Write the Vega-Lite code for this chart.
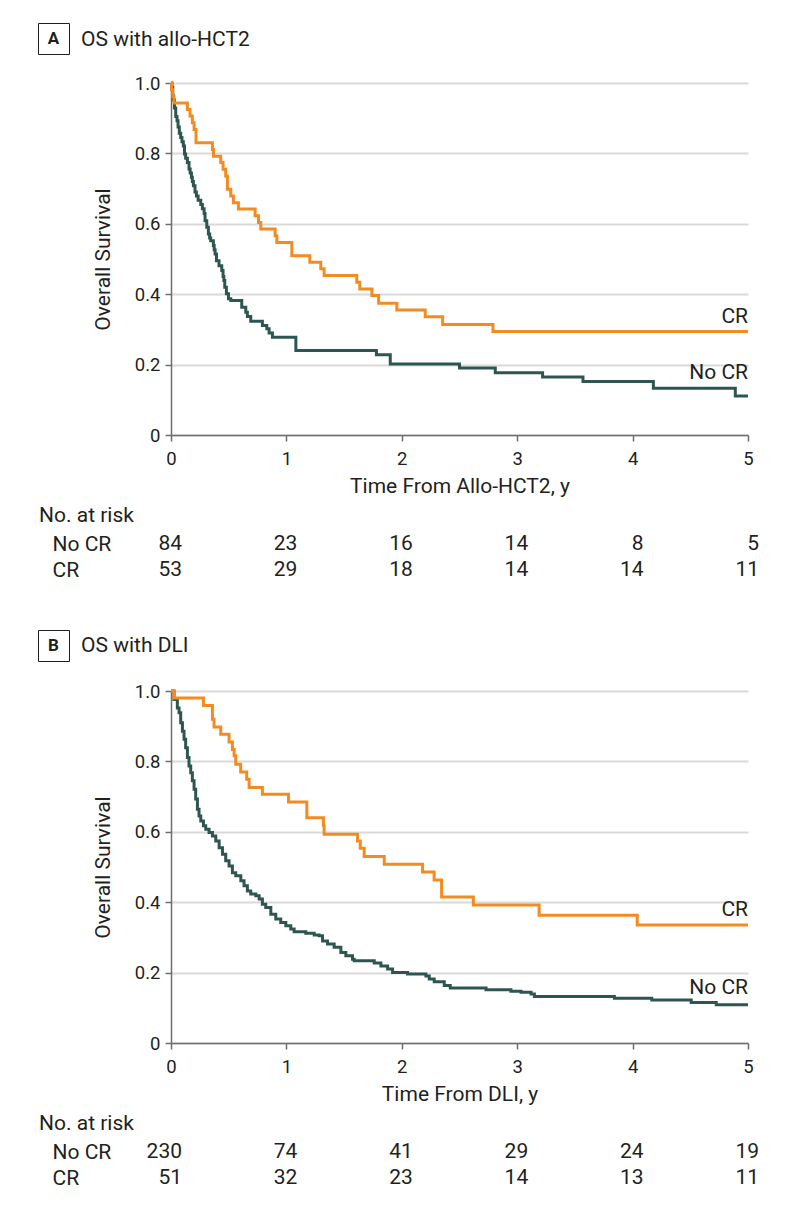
{
  "$schema": "https://vega.github.io/schema/vega-lite/v6.json",
  "background": "white",
  "padding": {"left": 37, "top": 22, "right": 5, "bottom": 5},
  "autosize": {"type": "pad"},
  "config": {
    "font": "Roboto",
    "view": {"stroke": null},
    "axis": {"labelColor": "#231f20", "titleColor": "#231f20", "domainColor": "#6d6e71", "tickColor": "#6d6e71", "domainWidth": 1.5, "tickWidth": 1.5, "tickSize": 6, "labelFontSize": 18.5, "titleFontSize": 21, "titleFontWeight": "normal", "labelFlush": false},
    "axisX": {"grid": false, "labelPadding": 8, "titlePadding": 8},
    "axisY": {"grid": true, "gridColor": "#d9d9d9", "gridWidth": 2, "labelPadding": 5, "titlePadding": 21},
    "title": {"fontSize": 21, "fontWeight": "normal", "color": "#231f20", "anchor": "start", "frame": "group"},
    "legend": {"orient": "none", "title": null, "strokeColor": "#231f20", "fillColor": "white", "padding": 7, "labelFontSize": 17, "labelFontWeight": "bold", "labelColor": "#231f20", "labelAlign": "center", "labelOffset": -8.5, "symbolType": "square", "symbolSize": 289, "symbolOpacity": 0, "symbolStrokeWidth": 0}
  },
  "resolve": {"scale": {"shape": "independent"}, "legend": {"shape": "independent"}},
  "spacing": 46,
  "vconcat": [
    {
      "spacing": 8,
      "resolve": {"scale": {"shape": "independent"}, "legend": {"shape": "independent"}},
      "vconcat": [
        {
          "width": 577, "height": 352,
          "title": {"text": "OS with allo-HCT2", "dx": -90, "dy": 78, "offset": 30, "baseline": "bottom"},
          "layer": [
            {
              "data": {"values": [
                {"g":"No CR","t":0,"s":1},{"g":"No CR","t":0.008,"s":0.988},{"g":"No CR","t":0.015,"s":0.964},{"g":"No CR","t":0.021,"s":0.952},{"g":"No CR","t":0.03,"s":0.929},{"g":"No CR","t":0.041,"s":0.905},{"g":"No CR","t":0.052,"s":0.893},{"g":"No CR","t":0.061,"s":0.875},{"g":"No CR","t":0.072,"s":0.857},{"g":"No CR","t":0.084,"s":0.845},{"g":"No CR","t":0.095,"s":0.833},{"g":"No CR","t":0.107,"s":0.821},{"g":"No CR","t":0.117,"s":0.798},{"g":"No CR","t":0.127,"s":0.786},{"g":"No CR","t":0.142,"s":0.774},{"g":"No CR","t":0.156,"s":0.756},{"g":"No CR","t":0.166,"s":0.744},{"g":"No CR","t":0.177,"s":0.732},{"g":"No CR","t":0.185,"s":0.72},{"g":"No CR","t":0.194,"s":0.708},{"g":"No CR","t":0.208,"s":0.69},{"g":"No CR","t":0.22,"s":0.679},{"g":"No CR","t":0.235,"s":0.667},{"g":"No CR","t":0.258,"s":0.655},{"g":"No CR","t":0.272,"s":0.643},{"g":"No CR","t":0.287,"s":0.629},{"g":"No CR","t":0.295,"s":0.609},{"g":"No CR","t":0.31,"s":0.59},{"g":"No CR","t":0.324,"s":0.571},{"g":"No CR","t":0.335,"s":0.56},{"g":"No CR","t":0.344,"s":0.552},{"g":"No CR","t":0.367,"s":0.538},{"g":"No CR","t":0.374,"s":0.526},{"g":"No CR","t":0.382,"s":0.514},{"g":"No CR","t":0.394,"s":0.495},{"g":"No CR","t":0.416,"s":0.481},{"g":"No CR","t":0.44,"s":0.467},{"g":"No CR","t":0.451,"s":0.45},{"g":"No CR","t":0.458,"s":0.439},{"g":"No CR","t":0.466,"s":0.42},{"g":"No CR","t":0.48,"s":0.401},{"g":"No CR","t":0.498,"s":0.387},{"g":"No CR","t":0.518,"s":0.382},{"g":"No CR","t":0.613,"s":0.363},{"g":"No CR","t":0.648,"s":0.349},{"g":"No CR","t":0.662,"s":0.337},{"g":"No CR","t":0.691,"s":0.323},{"g":"No CR","t":0.792,"s":0.311},{"g":"No CR","t":0.83,"s":0.302},{"g":"No CR","t":0.85,"s":0.29},{"g":"No CR","t":0.879,"s":0.278},{"g":"No CR","t":1.082,"s":0.24},{"g":"No CR","t":1.78,"s":0.228},{"g":"No CR","t":1.9,"s":0.202},{"g":"No CR","t":2.5,"s":0.19},{"g":"No CR","t":2.81,"s":0.177},{"g":"No CR","t":3.22,"s":0.165},{"g":"No CR","t":3.57,"s":0.152},{"g":"No CR","t":4.18,"s":0.133},{"g":"No CR","t":4.89,"s":0.111},{"g":"No CR","t":5,"s":0.111},
                {"g":"CR","t":0,"s":1},{"g":"CR","t":0.005,"s":0.981},{"g":"CR","t":0.015,"s":0.962},{"g":"CR","t":0.026,"s":0.943},{"g":"CR","t":0.142,"s":0.925},{"g":"CR","t":0.165,"s":0.906},{"g":"CR","t":0.185,"s":0.887},{"g":"CR","t":0.2,"s":0.868},{"g":"CR","t":0.217,"s":0.83},{"g":"CR","t":0.359,"s":0.811},{"g":"CR","t":0.368,"s":0.792},{"g":"CR","t":0.431,"s":0.774},{"g":"CR","t":0.451,"s":0.755},{"g":"CR","t":0.474,"s":0.736},{"g":"CR","t":0.489,"s":0.698},{"g":"CR","t":0.518,"s":0.679},{"g":"CR","t":0.541,"s":0.66},{"g":"CR","t":0.584,"s":0.642},{"g":"CR","t":0.729,"s":0.623},{"g":"CR","t":0.758,"s":0.604},{"g":"CR","t":0.778,"s":0.585},{"g":"CR","t":0.902,"s":0.566},{"g":"CR","t":0.917,"s":0.547},{"g":"CR","t":1.047,"s":0.509},{"g":"CR","t":1.203,"s":0.491},{"g":"CR","t":1.298,"s":0.472},{"g":"CR","t":1.327,"s":0.453},{"g":"CR","t":1.61,"s":0.434},{"g":"CR","t":1.636,"s":0.415},{"g":"CR","t":1.741,"s":0.396},{"g":"CR","t":1.799,"s":0.374},{"g":"CR","t":1.957,"s":0.355},{"g":"CR","t":2.203,"s":0.336},{"g":"CR","t":2.354,"s":0.314},{"g":"CR","t":2.79,"s":0.294},{"g":"CR","t":5,"s":0.294}
              ]},
              "mark": {"type": "line", "interpolate": "step-after", "strokeWidth": 3},
              "encoding": {
                "x": {"field": "t", "type": "quantitative", "scale": {"domain": [0, 5], "nice": false}, "axis": {"title": "Time From Allo-HCT2, y", "values": [0,1,2,3,4,5], "format": "d"}},
                "y": {"field": "s", "type": "quantitative", "scale": {"domain": [0, 1], "nice": false}, "axis": {"title": "Overall Survival", "values": [0,0.2,0.4,0.6,0.8,1], "labelExpr": "datum.value == 0 ? '0' : format(datum.value, '.1f')"}},
                "color": {"field": "g", "type": "nominal", "scale": {"domain": ["No CR", "CR"], "range": ["#2e5651", "#f38b21"]}, "legend": null}
              }
            },
            {
              "data": {"values": [{"g":"CR","t":5,"s":0.294},{"g":"No CR","t":5,"s":0.133}]},
              "mark": {"type": "text", "align": "right", "baseline": "alphabetic", "dy": -9, "fontSize": 21, "color": "#231f20"},
              "encoding": {
                "x": {"field": "t", "type": "quantitative"},
                "y": {"field": "s", "type": "quantitative"},
                "text": {"field": "g"}
              }
            },
            {
              "data": {"values": [{"panel": "A"}]},
              "mark": {"type": "point", "opacity": 0},
              "encoding": {"shape": {"field": "panel", "type": "nominal", "legend": {"orient": "none", "legendX": -133, "legendY": -60, "symbolType": "square", "symbolSize": 289, "symbolStrokeWidth": 0, "symbolOpacity": 0, "labelAlign": "center", "labelOffset": -8.5, "padding": 7}}}
            }
          ]
        },
        {
          "width": 577, "height": 52,
          "title": {"text": "No. at risk", "dx": -132, "dy": 19, "offset": 3, "baseline": "bottom"},
          "data": {"values": [
            {"g":"No CR","t":0,"n":84},{"g":"No CR","t":1,"n":23},{"g":"No CR","t":2,"n":16},{"g":"No CR","t":3,"n":14},{"g":"No CR","t":4,"n":8},{"g":"No CR","t":5,"n":5},
            {"g":"CR","t":0,"n":53},{"g":"CR","t":1,"n":29},{"g":"CR","t":2,"n":18},{"g":"CR","t":3,"n":14},{"g":"CR","t":4,"n":14},{"g":"CR","t":5,"n":11}
          ]},
          "mark": {"type": "text", "align": "right", "dx": 11, "fontSize": 21, "baseline": "middle", "color": "#231f20"},
          "encoding": {
            "x": {"field": "t", "type": "quantitative", "scale": {"domain": [0, 5], "nice": false}, "axis": null},
            "y": {"field": "g", "type": "nominal", "scale": {"domain": ["No CR", "CR"]}, "axis": {"title": null, "domain": false, "ticks": false, "tickSize": 0, "grid": false, "labelAlign": "left", "labelPadding": 119, "labelFontSize": 21}},
            "text": {"field": "n", "type": "quantitative"}
          }
        }
      ]
    },
    {
      "spacing": 8,
      "resolve": {"scale": {"shape": "independent"}, "legend": {"shape": "independent"}},
      "vconcat": [
        {
          "width": 577, "height": 352,
          "title": {"text": "OS with DLI", "dx": -90, "dy": 78, "offset": 31, "baseline": "bottom"},
          "layer": [
            {
              "data": {"values": [
                {"g":"No CR","t":0,"s":1},{"g":"No CR","t":0.026,"s":0.976},{"g":"No CR","t":0.055,"s":0.952},{"g":"No CR","t":0.07,"s":0.938},{"g":"No CR","t":0.084,"s":0.91},{"g":"No CR","t":0.099,"s":0.886},{"g":"No CR","t":0.113,"s":0.863},{"g":"No CR","t":0.127,"s":0.839},{"g":"No CR","t":0.142,"s":0.811},{"g":"No CR","t":0.156,"s":0.787},{"g":"No CR","t":0.171,"s":0.768},{"g":"No CR","t":0.185,"s":0.745},{"g":"No CR","t":0.2,"s":0.721},{"g":"No CR","t":0.214,"s":0.693},{"g":"No CR","t":0.229,"s":0.664},{"g":"No CR","t":0.243,"s":0.645},{"g":"No CR","t":0.258,"s":0.631},{"g":"No CR","t":0.281,"s":0.617},{"g":"No CR","t":0.301,"s":0.607},{"g":"No CR","t":0.33,"s":0.598},{"g":"No CR","t":0.359,"s":0.588},{"g":"No CR","t":0.388,"s":0.574},{"g":"No CR","t":0.417,"s":0.555},{"g":"No CR","t":0.446,"s":0.536},{"g":"No CR","t":0.474,"s":0.518},{"g":"No CR","t":0.503,"s":0.503},{"g":"No CR","t":0.532,"s":0.484},{"g":"No CR","t":0.561,"s":0.475},{"g":"No CR","t":0.605,"s":0.461},{"g":"No CR","t":0.633,"s":0.447},{"g":"No CR","t":0.662,"s":0.432},{"g":"No CR","t":0.691,"s":0.423},{"g":"No CR","t":0.735,"s":0.418},{"g":"No CR","t":0.764,"s":0.409},{"g":"No CR","t":0.792,"s":0.394},{"g":"No CR","t":0.821,"s":0.385},{"g":"No CR","t":0.865,"s":0.366},{"g":"No CR","t":0.908,"s":0.352},{"g":"No CR","t":0.951,"s":0.342},{"g":"No CR","t":0.995,"s":0.333},{"g":"No CR","t":1.038,"s":0.324},{"g":"No CR","t":1.067,"s":0.316},{"g":"No CR","t":1.168,"s":0.312},{"g":"No CR","t":1.241,"s":0.307},{"g":"No CR","t":1.284,"s":0.305},{"g":"No CR","t":1.313,"s":0.29},{"g":"No CR","t":1.356,"s":0.281},{"g":"No CR","t":1.414,"s":0.272},{"g":"No CR","t":1.472,"s":0.257},{"g":"No CR","t":1.515,"s":0.248},{"g":"No CR","t":1.573,"s":0.238},{"g":"No CR","t":1.587,"s":0.234},{"g":"No CR","t":1.761,"s":0.227},{"g":"No CR","t":1.819,"s":0.219},{"g":"No CR","t":1.877,"s":0.21},{"g":"No CR","t":1.92,"s":0.2},{"g":"No CR","t":2.05,"s":0.196},{"g":"No CR","t":2.209,"s":0.19},{"g":"No CR","t":2.238,"s":0.182},{"g":"No CR","t":2.281,"s":0.174},{"g":"No CR","t":2.368,"s":0.163},{"g":"No CR","t":2.42,"s":0.156},{"g":"No CR","t":2.73,"s":0.151},{"g":"No CR","t":2.946,"s":0.147},{"g":"No CR","t":3.033,"s":0.144},{"g":"No CR","t":3.12,"s":0.139},{"g":"No CR","t":3.149,"s":0.132},{"g":"No CR","t":3.842,"s":0.127},{"g":"No CR","t":4.166,"s":0.122},{"g":"No CR","t":4.508,"s":0.115},{"g":"No CR","t":4.725,"s":0.109},{"g":"No CR","t":5,"s":0.109},
                {"g":"CR","t":0,"s":1},{"g":"CR","t":0.026,"s":0.98},{"g":"CR","t":0.281,"s":0.959},{"g":"CR","t":0.359,"s":0.92},{"g":"CR","t":0.373,"s":0.898},{"g":"CR","t":0.431,"s":0.877},{"g":"CR","t":0.503,"s":0.855},{"g":"CR","t":0.532,"s":0.834},{"g":"CR","t":0.547,"s":0.816},{"g":"CR","t":0.561,"s":0.792},{"g":"CR","t":0.604,"s":0.77},{"g":"CR","t":0.656,"s":0.749},{"g":"CR","t":0.677,"s":0.726},{"g":"CR","t":0.792,"s":0.707},{"g":"CR","t":1.018,"s":0.685},{"g":"CR","t":1.177,"s":0.64},{"g":"CR","t":1.321,"s":0.617},{"g":"CR","t":1.327,"s":0.593},{"g":"CR","t":1.616,"s":0.574},{"g":"CR","t":1.64,"s":0.553},{"g":"CR","t":1.674,"s":0.53},{"g":"CR","t":1.848,"s":0.508},{"g":"CR","t":2.18,"s":0.486},{"g":"CR","t":2.28,"s":0.463},{"g":"CR","t":2.345,"s":0.415},{"g":"CR","t":2.62,"s":0.392},{"g":"CR","t":3.19,"s":0.363},{"g":"CR","t":4.04,"s":0.335},{"g":"CR","t":5,"s":0.335}
              ]},
              "mark": {"type": "line", "interpolate": "step-after", "strokeWidth": 3},
              "encoding": {
                "x": {"field": "t", "type": "quantitative", "scale": {"domain": [0, 5], "nice": false}, "axis": {"title": "Time From DLI, y", "values": [0,1,2,3,4,5], "format": "d"}},
                "y": {"field": "s", "type": "quantitative", "scale": {"domain": [0, 1], "nice": false}, "axis": {"title": "Overall Survival", "values": [0,0.2,0.4,0.6,0.8,1], "labelExpr": "datum.value == 0 ? '0' : format(datum.value, '.1f')"}},
                "color": {"field": "g", "type": "nominal", "scale": {"domain": ["No CR", "CR"], "range": ["#2e5651", "#f38b21"]}, "legend": null}
              }
            },
            {
              "data": {"values": [{"g":"CR","t":5,"s":0.335},{"g":"No CR","t":5,"s":0.115}]},
              "mark": {"type": "text", "align": "right", "baseline": "alphabetic", "dy": -9, "fontSize": 21, "color": "#231f20"},
              "encoding": {
                "x": {"field": "t", "type": "quantitative"},
                "y": {"field": "s", "type": "quantitative"},
                "text": {"field": "g"}
              }
            },
            {
              "data": {"values": [{"panel": "B"}]},
              "mark": {"type": "point", "opacity": 0},
              "encoding": {"shape": {"field": "panel", "type": "nominal", "legend": {"orient": "none", "legendX": -133, "legendY": -61, "symbolType": "square", "symbolSize": 289, "symbolStrokeWidth": 0, "symbolOpacity": 0, "labelAlign": "center", "labelOffset": -8.5, "padding": 7}}}
            }
          ]
        },
        {
          "width": 577, "height": 52,
          "title": {"text": "No. at risk", "dx": -132, "dy": 19, "offset": 3, "baseline": "bottom"},
          "data": {"values": [
            {"g":"No CR","t":0,"n":230},{"g":"No CR","t":1,"n":74},{"g":"No CR","t":2,"n":41},{"g":"No CR","t":3,"n":29},{"g":"No CR","t":4,"n":24},{"g":"No CR","t":5,"n":19},
            {"g":"CR","t":0,"n":51},{"g":"CR","t":1,"n":32},{"g":"CR","t":2,"n":23},{"g":"CR","t":3,"n":14},{"g":"CR","t":4,"n":13},{"g":"CR","t":5,"n":11}
          ]},
          "mark": {"type": "text", "align": "right", "dx": 11, "fontSize": 21, "baseline": "middle", "color": "#231f20"},
          "encoding": {
            "x": {"field": "t", "type": "quantitative", "scale": {"domain": [0, 5], "nice": false}, "axis": null},
            "y": {"field": "g", "type": "nominal", "scale": {"domain": ["No CR", "CR"]}, "axis": {"title": null, "domain": false, "ticks": false, "tickSize": 0, "grid": false, "labelAlign": "left", "labelPadding": 119, "labelFontSize": 21}},
            "text": {"field": "n", "type": "quantitative"}
          }
        }
      ]
    }
  ]
}
